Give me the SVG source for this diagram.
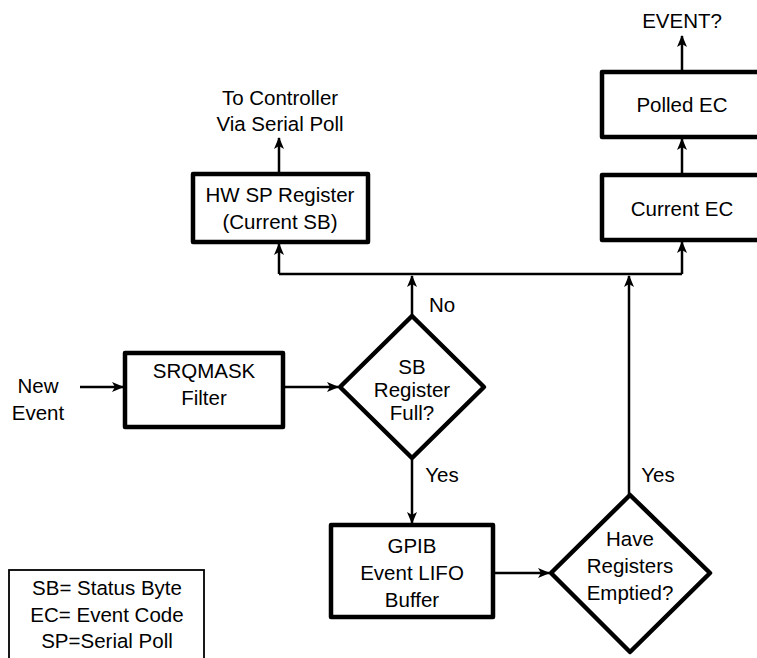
<svg xmlns="http://www.w3.org/2000/svg" width="757" height="658" viewBox="0 0 757 658">
<defs>
<marker id="ah" markerWidth="12" markerHeight="10" refX="11" refY="5" orient="auto" markerUnits="userSpaceOnUse">
<path d="M0,0 L12,5 L0,10 L3,5 Z" fill="#000"/>
</marker>
<style>
text{font-family:"Liberation Sans",Arial,sans-serif;font-size:20.5px;fill:#000;text-anchor:middle}
.box{fill:#fff;stroke:#000;stroke-width:4.5;stroke-linejoin:round}
.leg{fill:#fff;stroke:#000;stroke-width:1.8}
.c{fill:none;stroke:#000;stroke-width:2.5}
.a{marker-end:url(#ah)}
</style>
</defs>
<rect width="757" height="658" fill="#fff"/>
<g id="connectors">
<path class="c a" d="M279,174 L279,138"/>
<path class="c a" d="M682,72 L682,36"/>
<path class="c a" d="M682,175 L682,139"/>
<path class="c" d="M279,274 L682,274"/>
<path class="c a" d="M279,274 L279,244"/>
<path class="c a" d="M682,274 L682,242"/>
<path class="c a" d="M412,316 L412,276"/>
<path class="c a" d="M629,495 L629,276"/>
<path class="c a" d="M80,387 L123,387"/>
<path class="c a" d="M283,387 L338,387"/>
<path class="c a" d="M412,458 L412,523"/>
<path class="c a" d="M493,573 L549,573"/>
</g>
<g id="labels">
<text x="280" y="105">To Controller</text>
<text x="280" y="131">Via Serial Poll</text>
<text x="682" y="28">EVENT?</text>
<text x="38" y="393">New</text>
<text x="38" y="420">Event</text>
<text x="442" y="312">No</text>
<text x="442" y="482">Yes</text>
<text x="658" y="482">Yes</text>
</g>
<g id="hwsp">
<rect class="box" x="193" y="174" width="175" height="68"/>
<text x="280" y="202">HW SP Register</text>
<text x="280" y="229">(Current SB)</text>
</g>
<g id="polled">
<rect class="box" x="602" y="72" width="170" height="65"/>
<text x="682" y="112">Polled EC</text>
</g>
<g id="current">
<rect class="box" x="602" y="175" width="170" height="65"/>
<text x="682" y="216">Current EC</text>
</g>
<g id="srqmask">
<rect class="box" x="125" y="353" width="158" height="74"/>
<text x="204" y="378">SRQMASK</text>
<text x="204" y="405">Filter</text>
</g>
<g id="sbfull">
<path class="box" d="M412,316 L484,387 L412,458 L340,387 Z"/>
<text x="412" y="374">SB</text>
<text x="412" y="397">Register</text>
<text x="412" y="420">Full?</text>
</g>
<g id="gpib">
<rect class="box" x="331" y="525" width="162" height="92"/>
<text x="412" y="553">GPIB</text>
<text x="412" y="580">Event LIFO</text>
<text x="412" y="607">Buffer</text>
</g>
<g id="emptied">
<path class="box" d="M630,495 L710,573 L630,652 L551,573 Z"/>
<text x="630" y="546">Have</text>
<text x="630" y="573">Registers</text>
<text x="630" y="600">Emptied?</text>
</g>
<g id="legend">
<rect class="leg" x="9" y="570" width="195" height="100"/>
<text x="107" y="595">SB= Status Byte</text>
<text x="107" y="622">EC= Event Code</text>
<text x="107" y="648">SP=Serial Poll</text>
</g>
</svg>
